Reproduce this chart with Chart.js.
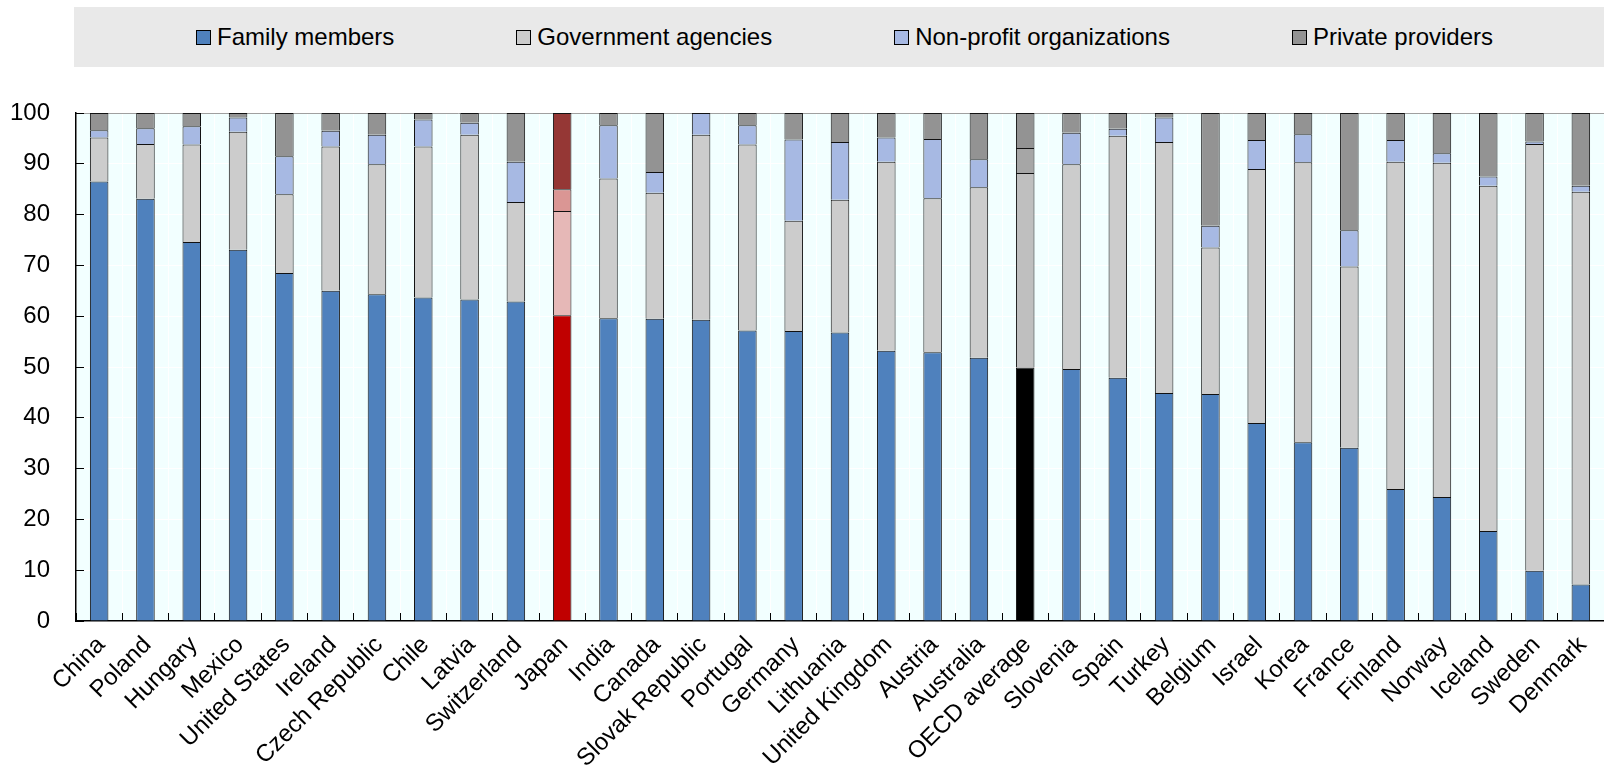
<!DOCTYPE html>
<html>
<head>
<meta charset="utf-8">
<script src="https://cdn.jsdelivr.net/npm/chart.js@4.4.1/dist/chart.umd.min.js"></script>
<style>
  html, body { margin: 0; padding: 0; background: #ffffff; }
  #wrap { position: relative; width: 1604px; height: 769px; overflow: hidden; }
  #legend {
    position: absolute; left: 74px; top: 7px; width: 1530px; height: 60px;
    background: #e9e9e9; display: flex; justify-content: center; align-items: center;
    gap: 122px; font-family: "Liberation Sans", Arial, sans-serif; font-size: 24px; color: #000;
    padding-left: 11px; box-sizing: border-box;
  }
  .item { display: flex; align-items: center; white-space: nowrap; }
  .sw { width: 13px; height: 13px; border: 1px solid #000; margin-right: 6px; }
  canvas { position: absolute; left: 0; top: 0; }
</style>
</head>
<body>
<div id="wrap">
  <canvas id="c" width="1604" height="769"></canvas>
  <div id="legend"></div>
</div>
<script>
const categories = ['China','Poland','Hungary','Mexico','United States','Ireland','Czech Republic','Chile','Latvia','Switzerland','Japan','India','Canada','Slovak Republic','Portugal','Germany','Lithuania','United Kingdom','Austria','Australia','OECD average','Slovenia','Spain','Turkey','Belgium','Israel','Korea','France','Finland','Norway','Iceland','Sweden','Denmark'];
const seriesNames = ['Family members','Government agencies','Non-profit organizations','Private providers'];
const familyMembers = [86.5,83.1,74.6,73.1,68.5,65.0,64.3,63.7,63.3,62.9,60.2,59.6,59.5,59.3,57.2,57.1,56.8,53.2,52.9,51.8,49.9,49.6,47.9,44.9,44.7,39.0,35.2,34.1,26.0,24.4,17.7,9.9,7.2];
const governmentAgencies = [8.7,10.8,19.2,23.2,15.5,28.4,25.6,29.7,32.4,19.6,20.5,27.5,24.8,36.4,36.6,21.7,26.1,37.2,30.3,33.6,38.3,40.3,47.6,49.4,28.8,50.0,55.1,35.7,64.4,65.8,68.0,84.0,77.3];
const nonProfitOrganizations = [1.4,3.1,3.6,2.8,7.5,3.1,5.8,5.3,2.4,7.9,4.3,10.5,4.1,4.3,3.8,16.0,11.4,4.8,11.7,5.5,4.9,6.2,1.4,4.8,4.3,5.7,5.5,7.1,4.3,1.9,1.8,0.5,1.2];
const privateProviders = [3.4,3.0,2.6,0.9,8.5,3.5,4.3,1.3,1.9,9.6,15.0,2.4,11.6,0.0,2.4,5.2,5.7,4.8,5.1,9.1,6.9,3.9,3.1,0.9,22.2,5.3,4.2,23.1,5.3,7.9,12.5,5.6,14.3];
const yTicks = [0,10,20,30,40,50,60,70,80,90,100];

// styles
const baseColors = ['#4f81bd','#cccccc','#a7b9e3','#939393'];
const japanColors = ['#c00000','#e6b8b7','#da9694','#953735'];
const oecdColors = ['#000000','#bfbfbf','#a6a6a6','#939393'];
function colorsFor(s) {
  return categories.map(c => c === 'Japan' ? japanColors[s] : (c === 'OECD average' ? oecdColors[s] : baseColors[s]));
}

// HTML legend
const lg = document.getElementById('legend');
seriesNames.forEach((n, i) => {
  const it = document.createElement('div'); it.className = 'item';
  const sw = document.createElement('div'); sw.className = 'sw'; sw.style.background = baseColors[i];
  const tx = document.createElement('span'); tx.textContent = n;
  it.appendChild(sw); it.appendChild(tx); lg.appendChild(it);
});

Chart.defaults.font.family = '"Liberation Sans", Arial, sans-serif';
Chart.defaults.font.size = 24;
Chart.defaults.color = '#000';

const plotBg = {
  id: 'plotBg',
  beforeDraw(chart) {
    const a = chart.chartArea, ctx = chart.ctx;
    ctx.save(); ctx.fillStyle = '#f2ffff';
    ctx.fillRect(a.left, a.top, a.right - a.left, a.bottom - a.top);
    ctx.restore();
  }
};

const allSeries = [familyMembers, governmentAgencies, nonProfitOrganizations, privateProviders];
new Chart(document.getElementById('c'), {
  type: 'bar',
  data: {
    labels: categories,
    datasets: allSeries.map((d, i) => ({
      label: seriesNames[i],
      data: d,
      backgroundColor: colorsFor(i),
      borderColor: '#111',
      borderWidth: 1,
      barPercentage: 0.4,
      categoryPercentage: 1.0
    }))
  },
  options: {
    responsive: false,
    animation: false,
    devicePixelRatio: 1,
    layout: { padding: { top: 113, right: -2, left: 0, bottom: 0 } },
    plugins: { legend: { display: false }, tooltip: { enabled: false } },
    scales: {
      x: {
        stacked: true,
        afterFit: (s) => { s.height = 148; s.paddingRight = 0; s.paddingLeft = 0; },
        grid: { offset: true, color: '#ffffff', lineWidth: 1, tickColor: '#000', tickLength: -8, tickWidth: 1 },
        border: { color: '#000', width: 1.5 },
        ticks: { autoSkip: false, maxRotation: 45, minRotation: 45, padding: 18, labelOffset: 2, font: { size: 24 } }
      },
      y: {
        stacked: true, min: 0, max: 100,
        afterFit: (s) => { s.width = 76; },
        afterBuildTicks: (s) => { s.ticks = yTicks.map(v => ({ value: v })); },
        grid: { color: (c) => (c.tick && c.tick.value === 100) ? '#a0a0a0' : '#ffffff', lineWidth: 1, tickColor: '#000', tickLength: -8, tickWidth: 1 },
        border: { color: '#000', width: 1.5 },
        ticks: { padding: 34, font: { size: 24 } }
      }
    }
  },
  plugins: [plotBg]
});
</script>
</body>
</html>
